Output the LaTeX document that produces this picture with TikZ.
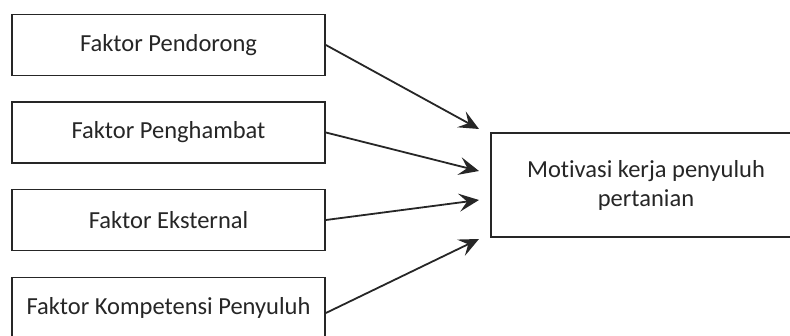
\documentclass[tikz,border=0pt]{standalone}
\usepackage{fontspec}
\setmainfont[Ligatures=NoCommon]{Carlito}
\usetikzlibrary{arrows.meta,positioning}
\definecolor{InkGray}{HTML}{262626}

\begin{document}
\begin{tikzpicture}[x=1pt,y=-1pt,>={Stealth[length=20pt,width=18pt,inset=8pt]},
  factor/.style={rectangle,draw=InkGray,line width=1.8pt,fill=white,minimum width=313pt,minimum height=61pt,inner sep=0pt},
  target/.style={rectangle,draw=InkGray,line width=1.8pt,fill=white,minimum width=310pt,minimum height=104pt,align=center,inner sep=0pt},
  influence/.style={->,line width=1.8pt,InkGray},
  every node/.style={font=\fontsize{24.5}{29}\selectfont,text=InkGray}]
  \useasboundingbox (0,0) rectangle (790,336);
  \node[factor] (f1) at (168.5,45) {Faktor Pendorong};
  \node[factor] (f2) at (168.5,132.5) {Faktor Penghambat};
  \node[factor] (f3) at (168.5,220) {Faktor Eksternal};
  \node[factor] (f4) at (168.5,308) {Faktor Kompetensi Penyuluh};
  \node[target] (mk) at (646,185) {Motivasi kerja penyuluh\\pertanian};
  % free ends of the arrows, short of the target box
  \coordinate (e1) at (479,129);
  \coordinate (e2) at (479,171);
  \coordinate (e3) at (479,200);
  \coordinate (e4) at (479,239);
  \draw[influence] (f1.east)--(e1);
  \draw[influence] (f2.east)--(e2);
  \draw[influence] (f3.east)--(e3);
  \draw[influence] ([yshift=-5pt]f4.east)--(e4);
\end{tikzpicture}
\end{document}
